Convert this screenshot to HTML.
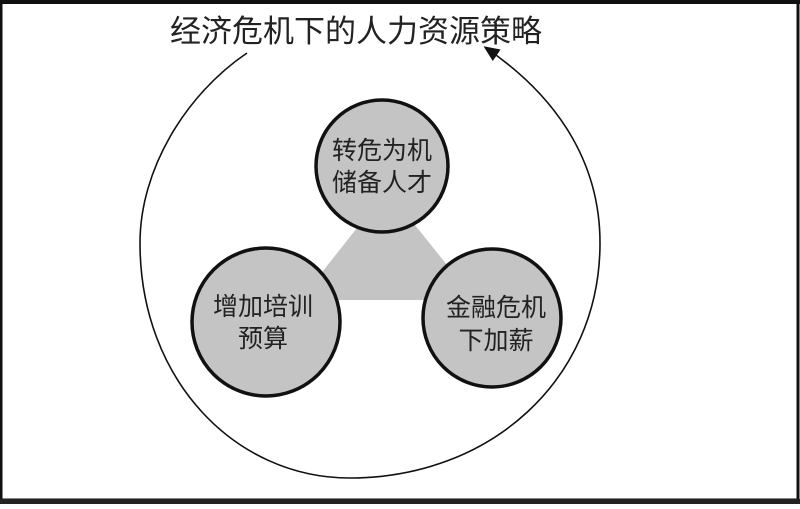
<!DOCTYPE html>
<html><head><meta charset="utf-8"><style>
html,body{margin:0;padding:0;background:#fff}
body{width:800px;height:504px;overflow:hidden}
text{font-family:"Liberation Sans","Noto Sans CJK SC",sans-serif;fill:#222}
</style></head><body>
<svg width="800" height="504" viewBox="0 0 800 504" xmlns="http://www.w3.org/2000/svg">
<defs><marker id="ah" markerWidth="16" markerHeight="14" refX="13" refY="7" orient="auto" markerUnits="userSpaceOnUse"><path d="M0,0 L16,7 L0,14 Z" fill="#111"/></marker></defs>
<rect x="1" y="2" width="797" height="498" fill="#fff" stroke="#111" stroke-width="3"/>
<rect x="0" y="0" width="800" height="4" fill="#111"/>
<rect x="0" y="499" width="800" height="5" fill="#222"/>
<text x="170" y="42" font-size="31">经济危机下的人力资源策略</text>
<path d="M247,53 C185,95 140,170 140,243 C140,380 235,478 350,478 C490,478 600,380 600,243 C600,160 555,95 486,48" fill="none" stroke="#111" stroke-width="1.6" marker-end="url(#ah)"/>
<polygon points="387,190 300,300 475,300" fill="#c4c4c4"/>
<circle cx="382" cy="166" r="66" fill="#c4c4c4" stroke="#111" stroke-width="3.5"/>
<circle cx="266" cy="322" r="74" fill="#c4c4c4" stroke="#111" stroke-width="3.5"/>
<circle cx="492" cy="318" r="69" fill="#c4c4c4" stroke="#111" stroke-width="3.5"/>
<text x="382" y="159" font-size="25" text-anchor="middle">转危为机</text>
<text x="382" y="191" font-size="25" text-anchor="middle">储备人才</text>
<text x="263" y="315" font-size="25" text-anchor="middle">增加培训</text>
<text x="263" y="347" font-size="25" text-anchor="middle">预算</text>
<text x="496" y="316" font-size="25" text-anchor="middle">金融危机</text>
<text x="496" y="349" font-size="25" text-anchor="middle">下加薪</text>
</svg>
</body></html>
